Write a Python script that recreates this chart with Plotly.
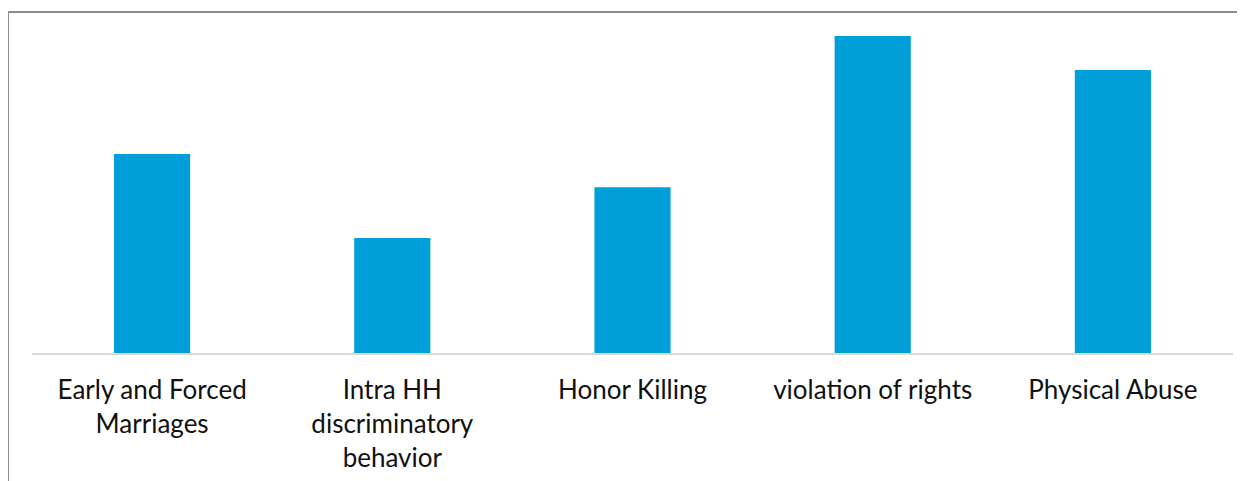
import plotly.graph_objects as go

categories = ["Early and Forced<br>Marriages", "Intra HH<br>discriminatory<br>behavior",
              "Honor Killing", "violation of rights", "Physical Abuse"]
values = [25.1, 14.5, 20.9, 40.0, 35.7]

# page body has 8px margin; figure sized to fit the window
W, H = 1237, 473
ml, mr, mt, mb = 24, 12, 12, 128
plot_h = H - mt - mb
ymax = 40.0 * plot_h / 317.0

fig = go.Figure(go.Bar(
    x=categories, y=values,
    marker=dict(color="#009FDA", line=dict(width=0)),
    width=0.317,
))

pw = W - ml - mr
fig.update_layout(
    width=W, height=H,
    margin=dict(l=ml, r=mr, t=mt, b=mb),
    plot_bgcolor="white", paper_bgcolor="white",
    showlegend=False,
    font=dict(family="Lato, Open Sans, sans-serif", size=26, color="#111111"),
    xaxis=dict(showline=True, linecolor="#D9D9D9", linewidth=2, ticks="",
               tickfont=dict(size=26), ticklabelstandoff=13, showgrid=False,
               automargin=False, fixedrange=True),
    yaxis=dict(range=[0, ymax], visible=False, showgrid=False,
               automargin=False, fixedrange=True),
    shapes=[dict(type="rect", xref="paper", yref="paper",
                 x0=(0 - ml) / pw, x1=1.05,
                 y0=-0.6, y1=(H - mb - 4) / plot_h,
                 line=dict(color="#8C8C8C", width=2), fillcolor="rgba(0,0,0,0)",
                 layer="below")],
)

fig.write_html("out.html", config={"displayModeBar": False})
